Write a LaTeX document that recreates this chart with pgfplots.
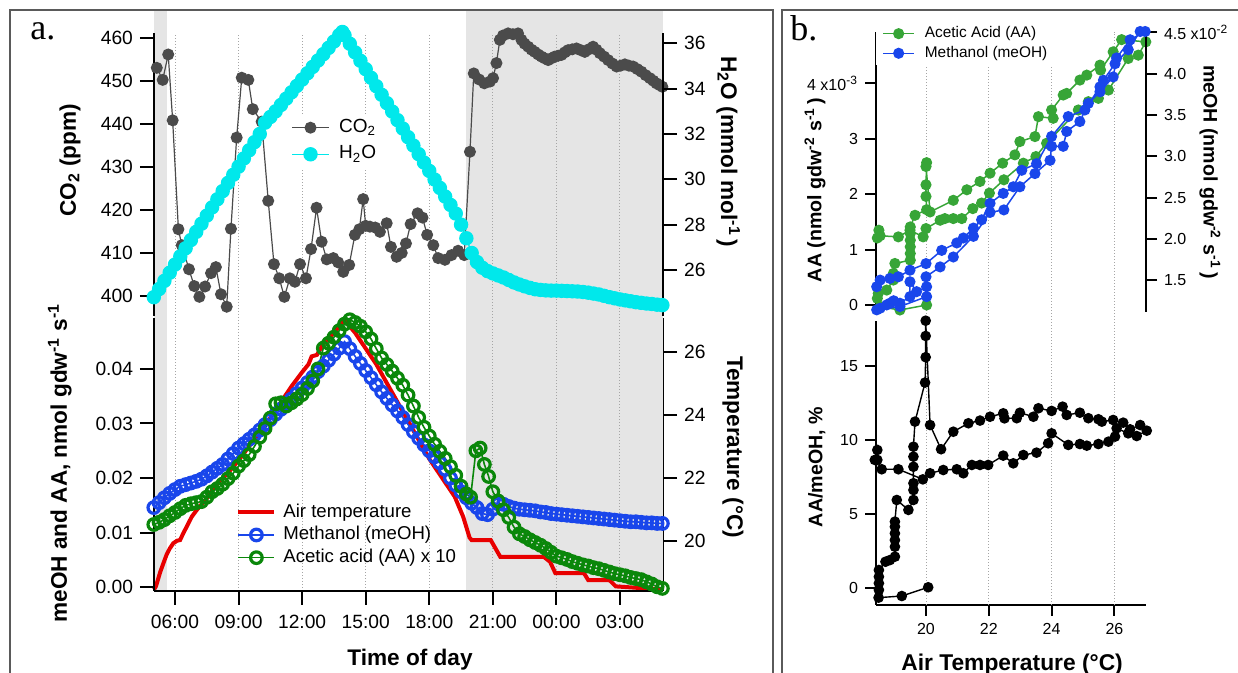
\documentclass[border=0pt]{standalone}
\usepackage{fontspec}
\setmainfont{Liberation Sans}
\newfontfamily\serifa{Liberation Serif}
\usepackage{pgfplots}
\pgfplotsset{compat=1.18}

\definecolor{co2gray}{RGB}{75,75,75}
\definecolor{h2ocyan}{RGB}{0,232,235}
\definecolor{shadegray}{RGB}{229,229,229}
\definecolor{meblue}{RGB}{25,70,235}
\definecolor{aagreen}{RGB}{10,135,10}
\definecolor{aagreenb}{RGB}{55,165,55}
\definecolor{tred}{RGB}{232,0,0}
\definecolor{gridgray}{RGB}{165,165,165}
\definecolor{framegray}{RGB}{90,90,90}

\pgfplotsset{
  base/.style={scale only axis, anchor=north west, clip=false,
    scaled x ticks=false, scaled y ticks=false,
    tick align=outside, major tick length=7pt,
    every tick/.style={black, line width=1pt},
    tick label style={font=\fontsize{9.6}{11}\selectfont},
    label style={font=\bfseries\fontsize{11.3}{13}\selectfont},
    legend cell align=left,
    /pgf/number format/assume math mode=true},
  noarrow/.style={axis line style={-, line width=1pt, black},
    every inner x axis line/.append style={-}, every outer x axis line/.append style={-},
    every inner y axis line/.append style={-}, every outer y axis line/.append style={-}},
  bstyle/.style={major tick length=5.5pt,
    tick label style={font=\fontsize{8}{9.5}\selectfont},
    label style={font=\bfseries\fontsize{9.8}{11}\selectfont}},
}

\begin{document}
\begin{tikzpicture}
\useasboundingbox (0,0) rectangle (619pt,-336.5pt);

% ---------------- Panel a, lower: temperature (right axis), shading, grid
\begin{axis}[base, noarrow, at={(77pt,-159pt)}, width=254.5pt, height=136.35pt,
  xmin=5.009, xmax=29.03, ymin=18.413, ymax=27.07,
  axis x line=none, axis y line*=right,
  ytick={20,22,24,26}, yticklabels={20,22,24,26},
  ylabel={Temperature (°C)},
  ylabel style={at={(axis description cs:1.1375,0.527)}, anchor=center, rotate=180},
  noarrow]
\fill[shadegray] (axis cs:5.009,18.413) rectangle (axis cs:5.637,36.848);
\fill[shadegray] (axis cs:19.72,18.413) rectangle (axis cs:29.03,36.848);
\pgfplotsinvokeforeach{6,9,12,15,18,21,24,27}{
  \draw[gridgray, densely dotted, line width=0.5pt] (axis cs:#1,18.413) -- (axis cs:#1,36.117);
}
\addplot[tred, line width=2pt, no marks] table {
5.01 18.45
5.10 18.55
5.30 19.00
5.45 19.28
5.60 19.55
5.75 19.75
5.92 19.92
6.10 20.00
6.24 20.02
6.40 20.25
6.55 20.44
6.79 20.76
7.02 20.97
7.50 21.35
8.00 21.80
8.50 22.15
9.00 22.55
9.50 23.00
10.00 23.45
10.50 23.90
11.00 24.40
11.50 24.90
12.00 25.35
12.30 25.60
12.45 25.85
12.70 25.90
13.00 26.25
13.50 26.60
14.00 27.00
14.50 26.60
15.00 26.10
15.50 25.60
16.00 25.00
16.50 24.40
17.00 23.80
17.50 23.20
18.00 22.60
18.50 22.10
19.00 21.60
19.20 21.40
19.60 20.76
19.90 20.10
20.00 20.02
20.90 20.02
21.35 19.49
23.40 19.49
23.70 19.33
23.95 18.97
25.30 18.97
25.50 18.75
26.50 18.75
26.80 18.55
29.00 18.45
};
\end{axis}

% ---------------- Panel a, lower: meOH and AA (left axis)
\begin{axis}[base, at={(77pt,-159pt)}, width=254.5pt, height=136.35pt,
  xmin=5.009, xmax=29.03, ymin=-0.000623, ymax=0.049322,
  axis x line*=bottom, axis y line*=left,
  xtick={6,9,12,15,18,21,24,27},
  xticklabels={06:00,09:00,12:00,15:00,18:00,21:00,00:00,03:00},
  xticklabel style={yshift=-1.5pt},
  ytick={0,0.01,0.02,0.03,0.04}, yticklabels={0.00,0.01,0.02,0.03,0.04},
  xlabel={Time of day},
  xlabel style={at={(axis description cs:0.503,-0.2725)}, anchor=base},
  ylabel={meOH and AA, nmol gdw\textsuperscript{-1} s\textsuperscript{-1}},
  ylabel style={at={(axis description cs:-0.185,0.468)}, anchor=center},
  legend image code/.code={\draw[mark repeat=2,mark phase=2] plot coordinates {(0pt,0pt) (9pt,0pt) (18pt,0pt)};},
  legend style={draw=none, fill=none, at={(axis description cs:0.1493,0.2043)}, anchor=west,
    inner xsep=3pt, inner ysep=1pt, row sep=0.35pt, column sep=2.5pt,
    font=\fontsize{9.3}{11}\selectfont,
    nodes={inner sep=1pt, text height=7pt, text depth=2pt}},
  noarrow]
\addlegendimage{tred, line width=2pt}
\addlegendentry{Air temperature}
\addplot[meblue, line width=0.8pt, mark=o, mark size=2.9pt, mark options={line width=1.6pt}] table {
5.00 0.0146
5.25 0.0155
5.50 0.0164
5.75 0.0172
6.00 0.0179
6.25 0.0185
6.50 0.0188
6.75 0.0191
7.00 0.0194
7.25 0.0198
7.50 0.0204
7.75 0.0211
8.00 0.0218
8.25 0.0225
8.50 0.0235
8.75 0.0245
9.00 0.0255
9.25 0.0263
9.50 0.0271
9.75 0.0279
10.00 0.0288
10.25 0.0298
10.50 0.0307
10.75 0.0317
11.00 0.0326
11.25 0.0336
11.50 0.0345
11.75 0.0355
12.00 0.0365
12.25 0.0375
12.50 0.0385
12.75 0.0395
13.00 0.0405
13.25 0.0416
13.50 0.0427
13.75 0.0438
14.00 0.0450
14.25 0.0437
14.50 0.0423
14.75 0.0410
15.00 0.0397
15.25 0.0384
15.50 0.0371
15.75 0.0358
16.00 0.0346
16.25 0.0334
16.50 0.0323
16.75 0.0311
17.00 0.0298
17.25 0.0285
17.50 0.0273
17.75 0.0261
18.00 0.0250
18.25 0.0239
18.50 0.0228
18.75 0.0216
19.00 0.0200
19.25 0.0187
19.50 0.0175
19.75 0.0164
20.00 0.0154
20.25 0.0146
20.50 0.0135
20.75 0.0133
21.00 0.0143
21.25 0.0153
21.50 0.0152
21.75 0.0148
22.00 0.0145
22.25 0.0143
22.50 0.0142
22.75 0.0141
23.00 0.0140
23.25 0.0138
23.50 0.0137
23.75 0.0135
24.00 0.0134
24.25 0.0133
24.50 0.0132
24.75 0.0131
25.00 0.0130
25.25 0.0129
25.50 0.0128
25.75 0.0127
26.00 0.0126
26.25 0.0125
26.50 0.0124
26.75 0.0123
27.00 0.0122
27.25 0.0121
27.50 0.0120
27.75 0.0120
28.00 0.0119
28.25 0.0118
28.50 0.0118
28.75 0.0117
29.00 0.0117
};
\addlegendentry{Methanol (meOH)}
\addplot[aagreen, line width=0.8pt, mark=o, mark size=2.9pt, mark options={line width=1.6pt}] table {
5.00 0.0115
5.25 0.0119
5.50 0.0124
5.75 0.0131
6.00 0.0137
6.25 0.0144
6.50 0.0150
6.75 0.0153
7.00 0.0155
7.25 0.0157
7.50 0.0165
7.75 0.0175
8.00 0.0181
8.25 0.0189
8.50 0.0199
8.75 0.0209
9.00 0.0222
9.25 0.0232
9.50 0.0243
9.75 0.0258
10.00 0.0275
10.25 0.0291
10.50 0.0310
10.75 0.0336
11.00 0.0338
11.25 0.0332
11.50 0.0338
11.75 0.0345
12.00 0.0353
12.25 0.0364
12.50 0.0378
12.75 0.0400
13.00 0.0438
13.25 0.0447
13.50 0.0458
13.75 0.0470
14.00 0.0482
14.25 0.0490
14.50 0.0485
14.75 0.0478
15.00 0.0468
15.25 0.0455
15.50 0.0437
15.75 0.0420
16.00 0.0408
16.25 0.0396
16.50 0.0383
16.75 0.0370
17.00 0.0352
17.25 0.0332
17.50 0.0311
17.75 0.0293
18.00 0.0277
18.25 0.0262
18.50 0.0249
18.75 0.0236
19.00 0.0221
19.25 0.0205
19.50 0.0185
19.75 0.0171
19.95 0.0165
20.20 0.0250
20.40 0.0255
20.60 0.0225
20.80 0.0203
21.00 0.0175
21.25 0.0158
21.50 0.0142
21.75 0.0128
22.00 0.0110
22.25 0.0098
22.50 0.0093
22.75 0.0087
23.00 0.0082
23.25 0.0077
23.50 0.0071
23.75 0.0064
24.00 0.0057
24.25 0.0054
24.50 0.0051
24.75 0.0047
25.00 0.0044
25.25 0.0041
25.50 0.0039
25.75 0.0036
26.00 0.0034
26.25 0.0031
26.50 0.0028
26.75 0.0025
27.00 0.0023
27.25 0.0021
27.50 0.0018
27.75 0.0016
28.00 0.0014
28.25 0.0010
28.50 0.0006
28.75 0.0001
29.00 -0.0002
};
\addlegendentry{Acetic acid (AA) x 10}
\end{axis}

% ---------------- Panel a, upper: CO2 (left)
\begin{axis}[base, at={(77pt,-16.5pt)}, width=254.5pt, height=141.5pt,
  xmin=5.009, xmax=29.03, ymin=395.35, ymax=461.09,
  axis x line=none, axis y line*=left,
  ytick={400,410,420,430,440,450,460}, yticklabels={400,410,420,430,440,450,460},
  ylabel={CO\textsubscript{2} (ppm)},
  ylabel style={at={(axis description cs:-0.165,0.55)}, anchor=center},
  noarrow]
\addplot[co2gray, line width=0.6pt, mark=*, mark size=2.7pt, mark options={fill=co2gray, draw=co2gray}] table {
5.14 453.0
5.42 450.2
5.68 456.1
5.89 440.8
6.16 415.5
6.32 411.8
6.66 406.2
6.91 402.3
7.15 399.8
7.42 402.2
7.70 405.3
7.93 406.7
8.17 400.4
8.44 397.5
8.64 415.6
8.91 436.8
9.15 450.7
9.46 450.2
9.67 443.4
10.09 440.5
10.40 422.1
10.67 407.4
10.92 404.1
11.16 399.8
11.42 404.1
11.66 403.3
11.90 407.4
12.18 404.1
12.42 410.9
12.68 420.5
12.92 412.6
13.16 408.5
13.47 408.8
13.70 407.8
13.94 405.6
14.22 407.2
14.49 414.2
14.70 415.5
14.88 422.5
15.00 416.3
15.20 416.1
15.45 415.9
15.67 414.9
15.99 416.9
16.19 411.4
16.46 409.1
16.70 410.0
16.90 412.2
17.12 416.7
17.45 419.2
17.68 418.2
17.90 414.2
18.19 411.8
18.42 408.8
18.74 408.4
19.05 409.5
19.36 410.5
19.65 409.5
19.92 433.5
20.10 451.7
20.35 450.3
20.60 449.4
20.86 449.8
21.01 450.6
21.17 454.1
21.33 459.5
21.48 460.5
21.72 461.0
21.95 460.8
22.19 461.0
22.35 459.5
22.50 458.6
22.67 457.9
22.83 457.2
22.98 456.7
23.14 456.1
23.30 455.6
23.45 455.2
23.61 454.8
23.76 455.2
23.92 455.6
24.08 455.8
24.24 456.0
24.40 456.6
24.55 457.1
24.75 457.3
24.95 457.5
25.15 457.1
25.34 456.7
25.53 457.3
25.73 457.9
25.89 457.2
26.05 456.4
26.25 455.6
26.44 454.8
26.64 454.0
26.84 453.3
27.03 453.5
27.23 453.8
27.42 453.5
27.62 453.3
27.82 452.7
28.01 452.1
28.21 451.3
28.41 450.6
28.57 450.0
28.72 449.4
28.87 449.0
29.00 448.6
};
\end{axis}

% ---------------- Panel a, upper: H2O (right)
\begin{axis}[base, at={(77pt,-16.5pt)}, width=254.5pt, height=141.5pt,
  xmin=5.009, xmax=29.03, ymin=23.97, ymax=36.455,
  axis x line=none, axis y line*=right,
  ytick={26,28,30,32,34,36}, yticklabels={26,28,30,32,34,36},
  ylabel={H\textsubscript{2}O (mmol mol\textsuperscript{-1}\,)},
  ylabel style={at={(axis description cs:1.128,0.58)}, anchor=center, rotate=180},
  legend image code/.code={\draw[mark repeat=2,mark phase=2] plot coordinates {(0pt,0pt) (9.25pt,0pt) (18.5pt,0pt)};},
  legend style={draw=none, fill=white, at={(axis description cs:0.2574,0.6184)}, anchor=west,
    inner xsep=3pt, inner ysep=1pt, row sep=1.6pt, column sep=3.8pt,
    font=\fontsize{9.5}{11}\selectfont,
    nodes={inner sep=1pt, text height=7.2pt, text depth=2.5pt}},
  noarrow]
\addlegendimage{co2gray, line width=0.6pt, mark=*, mark size=2.7pt, mark options={fill=co2gray, draw=co2gray}}
\addlegendentry{CO\textsubscript{2}}
\addplot[h2ocyan, line width=0.6pt, mark=*, mark size=3.3pt, mark options={fill=h2ocyan, draw=h2ocyan}] table {
5.00 24.80
5.25 25.16
5.50 25.52
5.75 25.88
6.00 26.24
6.25 26.60
6.50 26.96
6.75 27.32
7.00 27.68
7.25 28.04
7.50 28.40
7.75 28.76
8.00 29.12
8.25 29.48
8.50 29.84
8.75 30.20
9.00 30.56
9.25 30.92
9.50 31.28
9.75 31.64
10.00 32.00
10.25 32.50
10.50 32.75
10.75 33.00
11.00 33.28
11.25 33.56
11.50 33.84
11.75 34.12
12.00 34.40
12.25 34.68
12.50 34.96
12.75 35.24
13.00 35.52
13.25 35.80
13.50 36.08
13.75 36.36
13.90 36.50
14.00 36.35
14.25 35.98
14.50 35.60
14.75 35.23
15.00 34.86
15.25 34.48
15.50 34.11
15.75 33.73
16.00 33.36
16.25 32.99
16.50 32.61
16.75 32.24
17.00 31.86
17.25 31.49
17.50 31.11
17.75 30.74
18.00 30.37
18.25 29.99
18.50 29.62
18.75 29.24
19.00 28.87
19.25 28.49
19.50 28.00
19.75 27.40
20.00 26.75
20.25 26.35
20.50 26.10
20.75 25.95
21.00 25.85
21.25 25.76
21.50 25.67
21.75 25.56
22.00 25.45
22.25 25.36
22.50 25.28
22.75 25.21
23.00 25.15
23.25 25.12
23.50 25.10
23.75 25.09
24.00 25.09
24.25 25.08
24.50 25.07
24.75 25.06
25.00 25.05
25.25 25.03
25.50 25.00
25.75 24.96
26.00 24.92
26.25 24.86
26.50 24.80
26.75 24.75
27.00 24.70
27.25 24.66
27.50 24.62
27.75 24.58
28.00 24.55
28.25 24.52
28.50 24.50
28.75 24.47
29.00 24.45
};
\addlegendentry{H\textsubscript{2}O}
\end{axis}

% ---------------- Panel b, lower: AA/meOH ratio
\begin{axis}[base, bstyle, at={(438pt,-160.35pt)}, width=135pt, height=142.15pt,
  xmin=18.408, xmax=27.006, ymin=-1.125, ymax=18.03,
  axis x line*=bottom, axis y line*=left,
  xtick={20,22,24,26}, xticklabels={20,22,24,26},
  ytick={0,5,10,15}, yticklabels={0,5,10,15},
  xlabel={Air Temperature (°C)},
  xlabel style={at={(axis description cs:0.504,-0.232)}, anchor=base, font=\bfseries\fontsize{11.4}{13}\selectfont},
  ylabel={AA/meOH, \%},
  ylabel style={at={(axis description cs:-0.219,0.485)}, anchor=center},
  noarrow]
\pgfplotsinvokeforeach{20,22,24,26}{
  \draw[gridgray, densely dotted, line width=0.5pt] (axis cs:#1,-1.125) -- (axis cs:#1,37.49);
}
\addplot[black, line width=0.7pt, mark=*, mark size=2.3pt, mark options={fill=black}] table {
18.37 8.65
18.45 9.32
18.45 8.65
18.59 8.02
19.12 8.02
19.90 7.34
20.13 7.75
20.55 7.97
20.98 8.02
21.19 7.75
21.46 8.31
21.72 8.31
21.98 8.31
22.46 8.94
22.78 8.42
23.10 8.98
23.52 9.14
23.89 9.77
24.00 10.44
24.53 9.66
24.90 9.72
25.12 9.61
25.49 9.72
25.81 9.88
26.02 10.22
26.07 10.78
26.44 10.44
26.71 10.26
27.03 10.62
26.82 11.00
26.50 10.71
26.28 11.16
25.96 11.34
25.60 11.23
25.49 11.39
25.17 11.46
24.90 11.83
24.48 11.68
24.35 12.24
24.00 11.95
23.58 12.13
23.42 11.56
22.99 11.83
22.89 11.46
22.50 11.45
22.46 11.79
22.04 11.56
21.72 11.30
21.35 11.12
20.87 10.55
20.48 9.37
20.13 11.00
19.99 18.03
19.99 17.00
19.99 15.57
19.97 13.86
19.65 11.23
19.60 9.54
19.60 8.87
19.60 8.19
19.60 7.08
19.60 6.62
19.60 5.95
19.44 5.28
19.07 5.95
19.01 4.49
19.01 4.15
19.01 3.70
19.01 3.25
19.01 2.80
19.01 2.13
18.85 1.90
18.71 1.79
18.50 1.23
18.50 0.78
18.50 0.34
18.50 -0.11
18.49 -0.63
19.23 -0.52
20.07 0.07
};
\end{axis}

% ---------------- Panel b, upper: AA (left)
\begin{axis}[base, bstyle, at={(438pt,-16pt)}, width=135pt, height=140pt,
  xmin=18.408, xmax=27.006, ymin=-0.126, ymax=4.928,
  axis x line=none, axis y line*=left,
  ytick={0,1,2,3,4}, yticklabels={0,1,2,3,{4 x10\textsuperscript{-3}}},
  ylabel={AA (nmol gdw\textsuperscript{-2} s\textsuperscript{-1}\,)},
  ylabel style={at={(axis description cs:-0.226,0.436)}, anchor=center},
  noarrow]
\addplot[aagreenb, line width=0.75pt, mark=*, mark size=2.4pt, mark options={fill=aagreenb, draw=aagreenb}] table {
18.45 1.21
18.50 1.35
18.54 1.25
19.12 1.23
19.49 1.35
19.91 1.23
20.00 1.38
20.45 1.53
20.60 1.56
20.87 1.56
21.14 1.56
21.49 1.74
21.77 1.84
22.02 2.02
22.48 2.26
23.10 2.56
23.50 2.68
23.84 2.92
24.85 3.52
25.17 3.67
25.49 3.73
25.81 3.88
26.44 4.45
26.76 4.51
27.00 4.75
26.23 4.79
25.96 4.57
25.56 4.24
25.54 4.33
25.12 4.15
24.90 4.06
24.48 3.82
24.37 3.79
24.00 3.52
24.05 3.37
23.58 3.40
23.47 3.04
22.99 2.95
22.83 2.71
22.44 2.56
22.04 2.38
21.72 2.23
21.30 2.08
20.87 1.89
20.13 1.68
20.00 2.50
20.02 2.57
20.00 2.17
20.00 1.96
20.02 1.72
19.65 1.62
19.50 1.41
19.50 1.29
19.50 1.17
19.50 1.05
19.50 0.93
19.50 0.81
19.01 0.75
18.96 0.57
18.96 0.45
18.75 0.27
18.48 0.21
18.45 0.12
18.54 -0.03
19.17 -0.09
20.02 0.00
};
\end{axis}

% ---------------- Panel b, upper: meOH (right)
\begin{axis}[base, bstyle, at={(438pt,-16pt)}, width=135pt, height=140pt,
  xmin=18.408, xmax=27.006, ymin=1.114, ymax=4.504,
  axis x line=none, axis y line*=right,
  ytick={1.5,2,2.5,3,3.5,4,4.5}, yticklabels={1.5,2.0,2.5,3.0,3.5,4.0,{4.5 x10\textsuperscript{-2}}},
  ylabel={meOH (nmol gdw\textsuperscript{-2} s\textsuperscript{-1}\,)},
  ylabel style={at={(axis description cs:1.237,0.5)}, anchor=center, rotate=180},
  legend image code/.code={\draw[mark repeat=2,mark phase=2] plot coordinates {(0pt,0pt) (7.75pt,0pt) (15.5pt,0pt)};},
  legend style={draw=none, fill=white, at={(axis description cs:0.0,0.959)}, anchor=west,
    inner xsep=3pt, inner ysep=1pt, row sep=0pt, column sep=4pt,
    font=\fontsize{7.7}{9}\selectfont,
    nodes={inner sep=1pt, text height=6pt, text depth=1.8pt}},
  noarrow]
\addlegendimage{aagreenb, line width=0.75pt, mark=*, mark size=2.4pt, mark options={fill=aagreenb, draw=aagreenb}}
\addlegendentry{Acetic Acid (AA)}
\addplot[meblue, line width=0.75pt, mark=*, mark size=2.4pt, mark options={fill=meblue, draw=meblue}] table {
18.43 1.42
18.54 1.50
18.85 1.52
19.12 1.54
19.49 1.62
20.00 1.70
20.50 1.86
20.98 1.95
21.19 2.01
21.51 2.13
21.77 2.23
22.04 2.43
22.46 2.55
22.78 2.63
23.05 2.83
23.52 2.91
24.00 3.24
24.53 3.48
25.06 3.56
25.54 3.84
25.65 3.92
26.02 4.12
26.44 4.29
26.82 4.51
26.98 4.51
26.50 4.41
26.07 4.19
25.96 3.96
25.54 3.78
25.17 3.64
24.90 3.42
24.48 3.30
24.37 3.12
24.00 3.12
23.95 2.95
23.47 2.79
22.99 2.63
22.48 2.35
22.04 2.32
21.51 2.03
20.87 1.78
20.45 1.66
20.00 1.54
20.02 1.42
19.70 1.36
19.49 1.48
19.49 1.30
19.17 1.22
18.97 1.25
18.85 1.22
18.75 1.20
18.54 1.16
18.43 1.14
19.17 1.18
20.02 1.30
};
\addlegendentry{Methanol (meOH)}
\end{axis}

% ---------------- frames and panel letters
\draw[framegray, line width=0.7pt] (5pt,-5pt) rectangle (386.4pt,-360pt);
\draw[framegray, line width=0.7pt] (391pt,-5pt) rectangle (640pt,-360pt);
\node[anchor=base west, inner sep=0pt, font=\serifa\fontsize{18}{20}\selectfont] at (15pt,-19.75pt) {a.};
\node[anchor=base west, inner sep=0pt, font=\serifa\fontsize{18}{20}\selectfont] at (395pt,-20.5pt) {b.};
\end{tikzpicture}
\end{document}
